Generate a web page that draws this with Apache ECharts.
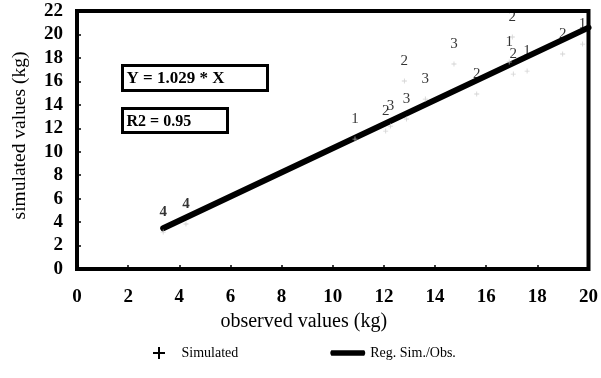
<!DOCTYPE html>
<html>
<head>
<meta charset="utf-8">
<script src="https://cdn.jsdelivr.net/npm/echarts@6/dist/echarts.min.js"></script>
<style>
  html, body { margin: 0; padding: 0; background: #fff; }
  #chart { width: 601px; height: 378px; }
</style>
</head>
<body>
<div id="chart"></div>
<script>
// Observed vs simulated weights, each point tagged with its group number
const observed  = [3.37, 4.26, 10.87, 12.07, 12.26, 12.88, 12.80, 13.62, 14.74, 15.63, 17.02, 16.90, 17.06, 17.60, 18.99, 19.77];
const simulated = [3.15, 3.84, 11.08, 11.76, 12.19, 12.79, 16.03, 14.49, 17.48, 14.92, 19.78, 17.65, 16.62, 16.88, 18.33, 19.18];
const groups    = ['4', '4', '1', '2', '3', '3', '2', '3', '3', '2', '2', '1', '2', '1', '2', '1'];

// Regression through the origin
const slope = 1.029;
const r2 = 0.95;
const regRange = [3.37, 20];

const xTicks = { min: 0, max: 20, interval: 2 };
const yTicks = { min: 0, max: 22, interval: 2 };

const serif = '"Liberation Serif", "Times New Roman", serif';
const plusPath = 'path://M5,0 L7,0 L7,5 L12,5 L12,7 L7,7 L7,12 L5,12 L5,7 L0,7 L0,5 L5,5 Z';

const points = observed.map((x, i) => ({
  value: [x, simulated[i], groups[i]],
  label: { fontWeight: groups[i] === '4' ? 'bold' : 'normal' }
}));
const regLine = regRange.map(x => [x, +(slope * x).toFixed(3)]);

const chart = echarts.init(document.getElementById('chart'));
chart.setOption({
  animation: false,
  backgroundColor: '#fff',
  grid: {
    left: 77, right: 10, top: 11, bottom: 109,
    show: true, borderColor: '#000', borderWidth: 4, backgroundColor: 'transparent'
  },
  xAxis: {
    type: 'value', min: xTicks.min, max: xTicks.max, interval: xTicks.interval,
    name: 'observed values (kg)', nameLocation: 'middle', nameGap: 40,
    nameTextStyle: { fontFamily: serif, fontSize: 20, color: '#000', padding: [0, 58, 0, 0] },
    axisLine: { show: false },
    axisTick: { show: true, inside: true, length: 4, lineStyle: { color: '#000', width: 1.5 } },
    axisLabel: { fontFamily: serif, fontSize: 19, fontWeight: 'bold', color: '#000', margin: 19 },
    splitLine: { show: false }
  },
  yAxis: {
    type: 'value', min: yTicks.min, max: yTicks.max, interval: yTicks.interval,
    name: 'simulated values (kg)', nameLocation: 'middle', nameGap: 47,
    nameTextStyle: { fontFamily: serif, fontSize: 19.5, color: '#000', padding: [0, 0, 0, 9] },
    axisLine: { show: false },
    axisTick: { show: true, inside: true, length: 4, lineStyle: { color: '#000', width: 1.5 } },
    axisLabel: { fontFamily: serif, fontSize: 19, fontWeight: 'bold', color: '#000', margin: 14 },
    splitLine: { show: false }
  },
  legend: {
    left: 148, top: 341, itemWidth: 35, itemHeight: 12, itemGap: 92,
    textStyle: { fontFamily: serif, fontSize: 14, color: '#000' },
    data: [
      { name: 'Simulated', icon: plusPath, itemStyle: { color: '#000', opacity: 1 } },
      { name: 'Reg. Sim./Obs.', icon: 'path://M2,0 L33,0 Q35,2.5 33,5 L2,5 Q0,2.5 2,0 Z', itemStyle: { color: '#000' } }
    ]
  },
  series: [
    {
      name: 'Simulated', type: 'scatter', data: points,
      symbol: plusPath, symbolSize: 5,
      itemStyle: { color: '#c8c8c8' },
      label: {
        show: true, position: 'inside', offset: [0, -20],
        formatter: p => p.value[2],
        fontFamily: serif, fontSize: 15, color: '#000'
      },
      z: 3
    },
    {
      name: 'Reg. Sim./Obs.', type: 'line', data: regLine,
      symbol: 'none', lineStyle: { color: '#000', width: 6, cap: 'round' }, z: 2
    }
  ],
  graphic: [
    {
      type: 'group', left: 121, top: 64,
      children: [
        { type: 'rect', shape: { x: 0, y: 0, width: 145, height: 25 }, style: { fill: '#fff', stroke: '#000', lineWidth: 3 } },
        { type: 'text', x: 4, y: 13, style: { text: 'Y = ' + slope + ' * X', font: 'bold 17px ' + serif, fill: '#000', verticalAlign: 'middle' } }
      ]
    },
    {
      type: 'group', left: 121, top: 107,
      children: [
        { type: 'rect', shape: { x: 0, y: 0, width: 105, height: 24 }, style: { fill: '#fff', stroke: '#000', lineWidth: 3 } },
        { type: 'text', x: 4, y: 13, style: { text: 'R2 = ' + r2, font: 'bold 16px ' + serif, fill: '#000', verticalAlign: 'middle' } }
      ]
    }
  ]
});
</script>
</body>
</html>
